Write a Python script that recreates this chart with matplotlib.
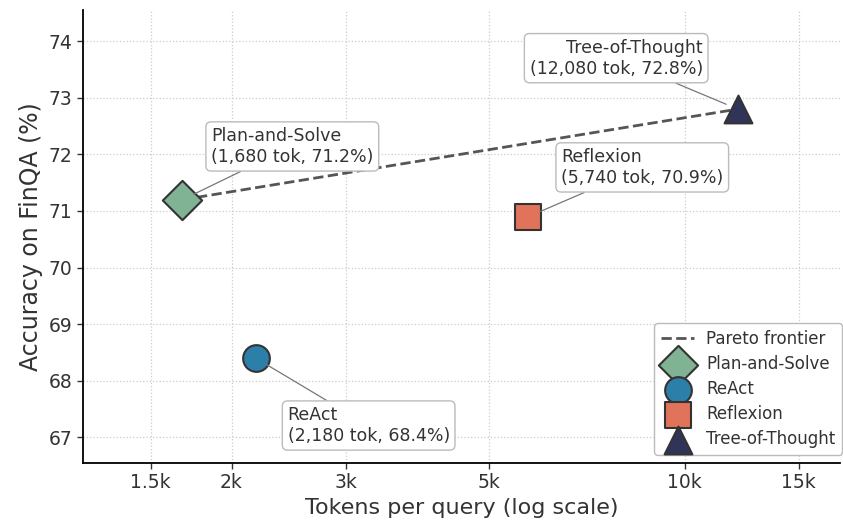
import numpy as np
import matplotlib
matplotlib.use("Agg")
import matplotlib.pyplot as plt
from matplotlib.ticker import FixedLocator, FixedFormatter, NullLocator

# DATA
methods = ["Plan-and-Solve", "ReAct", "Reflexion", "Tree-of-Thought"]
tokens = [1680, 2180, 5740, 12080]
accuracy = [71.2, 68.4, 70.9, 72.8]
frontier = ["Plan-and-Solve", "Tree-of-Thought"]

xticks = [1500, 2000, 3000, 5000, 10000, 15000]
xtick_labels = ["1.5k", "2k", "3k", "5k", "10k", "15k"]
yticks = [67, 68, 69, 70, 71, 72, 73, 74]

# STYLE
markers = ["D", "o", "s", "^"]
colors = ["#7fb394", "#2b7fa8", "#e0735a", "#2f3458"]
sizes = [400, 370, 370, 400]
label_pos = [(1860, 72.14), (2440, 67.21), (6450, 71.77), (10670, 73.70)]
label_ha = ["left", "left", "left", "right"]
TXT = "#333333"

fig, ax = plt.subplots(figsize=(8.43, 5.29), dpi=100)
fig.subplots_adjust(left=0.0985, right=0.997, bottom=0.125, top=0.981)

fx = [tokens[methods.index(m)] for m in frontier]
fy = [accuracy[methods.index(m)] for m in frontier]
ax.plot(fx, fy, ls="--", color="#555555", lw=2, label="Pareto frontier", zorder=2)

for i, m in enumerate(methods):
    ax.scatter(tokens[i], accuracy[i], marker=markers[i], s=sizes[i],
               color=colors[i], edgecolor="#333333", linewidth=1.5,
               label=m, zorder=3)
    ax.annotate(f"{m}\n({tokens[i]:,} tok, {accuracy[i]}%)",
                xy=(tokens[i], accuracy[i]), xytext=label_pos[i],
                ha=label_ha[i], va="center", fontsize=12.5, color=TXT,
                bbox=dict(boxstyle="round,pad=0.3", fc="white", ec="#bbbbbb", lw=1),
                arrowprops=dict(arrowstyle="-", color="#777777", lw=0.9,
                                shrinkA=0, shrinkB=9),
                zorder=4)

ax.set_xscale("log")
ax.set_xlim(1180, 17400)
ax.set_ylim(66.55, 74.55)
ax.xaxis.set_major_locator(FixedLocator(xticks))
ax.xaxis.set_major_formatter(FixedFormatter(xtick_labels))
ax.xaxis.set_minor_locator(NullLocator())
ax.set_yticks(yticks)
ax.tick_params(labelsize=13.5, length=4, width=1, colors=TXT)

ax.grid(True, ls=":", color="#cccccc", lw=0.9)
ax.set_axisbelow(True)
ax.spines["top"].set_visible(False)
ax.spines["right"].set_visible(False)
ax.spines["left"].set_linewidth(1.3)
ax.spines["bottom"].set_linewidth(1.3)

ax.set_xlabel("Tokens per query (log scale)", fontsize=16, color=TXT)
ax.set_ylabel("Accuracy on FinQA (%)", fontsize=17, color=TXT)

leg = ax.legend(loc="lower right", fontsize=12, labelspacing=0.42,
                handletextpad=0.7, borderpad=0.4, framealpha=1,
                edgecolor="#bbbbbb", bbox_to_anchor=(1.013, 0.0))
for t in leg.get_texts():
    t.set_color(TXT)

fig.savefig("out.png", dpi=100)
